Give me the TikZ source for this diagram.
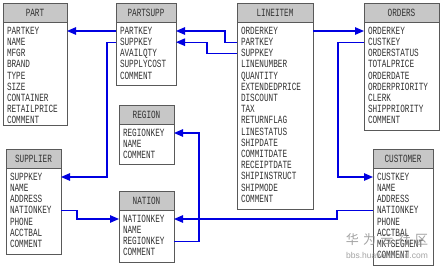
\documentclass[tikz,border=0pt]{standalone}
\usepackage{fontspec}
\setmainfont{Liberation Serif}
\newfontfamily\fldfont{Liberation Mono}
\newfontfamily\cjkfont{Noto Sans CJK SC}
\newfontfamily\wmfont{Liberation Sans}
\usepackage{graphicx}
\usetikzlibrary{arrows.meta}
\newcommand{\sx}[1]{\scalebox{0.70}[1]{#1}}
\definecolor{fkblue}{RGB}{0,0,225}
\tikzset{
  tblbox/.style={draw=black!65, line width=0.8pt, fill=white, anchor=north west, inner sep=0pt, outer sep=0pt},
  hdrbox/.style={draw=black!65, line width=0.6pt, fill=black!22, anchor=north west, inner sep=0pt, outer sep=0pt,
    font=\fldfont\fontsize{11}{11}\selectfont, text=black!80},
  fld/.style={inner sep=0pt, outer sep=0pt, anchor=west, text height=6.5pt, text depth=0pt,
    font=\fldfont\fontsize{11}{11}\selectfont, text=black!80},
  fk/.style={draw=fkblue, line width=1.2pt, -{Triangle[length=9pt,width=7.5pt]}},
  wm/.style={inner sep=0pt, text=black!45, opacity=0.8},
}
% name, left, top, right, bottom, title, fields
\newcommand{\dbtable}[7]{%
  \node[tblbox, minimum width={#4-#2}, minimum height={#5-#3}] (#1) at (#2,#3) {};
  \node[hdrbox, minimum width={#4-#2}, minimum height=19] (#1-h) at (#2,#3) {\sx{#6}};
  \foreach \f [count=\i] in {#7} {
    \node[fld] (#1-\i) at ({#2+4}, {#3+28+11.2*\i-11.2}) {\sx{\f}};
  }
}
\begin{document}
\begin{tikzpicture}[x=1pt,y=-1pt]
\useasboundingbox[fill=white] (0,0) rectangle (441,268);
\dbtable{part}{3}{3}{67}{125}{PART}{PARTKEY,NAME,MFGR,BRAND,TYPE,SIZE,CONTAINER,RETAILPRICE,COMMENT}
\dbtable{ps}{116}{3}{176}{85}{PARTSUPP}{PARTKEY,SUPPKEY,AVAILQTY,SUPPLYCOST,COMMENT}
\dbtable{reg}{119}{105}{174}{164}{REGION}{REGIONKEY,NAME,COMMENT}
\dbtable{sup}{6}{149}{61}{254}{SUPPLIER}{SUPPKEY,NAME,ADDRESS,NATIONKEY,PHONE,ACCTBAL,COMMENT}
\dbtable{nat}{119}{191}{174}{262}{NATION}{NATIONKEY,NAME,REGIONKEY,COMMENT}
\dbtable{li}{237}{3}{313}{209}{LINEITEM}{ORDERKEY,PARTKEY,SUPPKEY,LINENUMBER,QUANTITY,EXTENDEDPRICE,DISCOUNT,TAX,RETURNFLAG,LINESTATUS,SHIPDATE,COMMITDATE,RECEIPTDATE,SHIPINSTRUCT,SHIPMODE,COMMENT}
\dbtable{ord}{364}{3}{439}{130}{ORDERS}{ORDERKEY,CUSTKEY,ORDERSTATUS,TOTALPRICE,ORDERDATE,ORDERPRIORITY,CLERK,SHIPPRIORITY,COMMENT}
\dbtable{cus}{373}{149}{433}{265}{CUSTOMER}{CUSTKEY,NAME,ADDRESS,NATIONKEY,PHONE,ACCTBAL,MKTSEGMENT,COMMENT}
% connectors
\draw[fk] (ps.west |- ps-1) -- (part.east |- part-1);
\draw[fk] (li.west |- li-2) -- ++(-12,0) |- (ps.east |- ps-1);
\draw[fk] (li.west |- li-3) -- ++(-30,0) |- (ps.east |- ps-2);
\draw[fk] (ps.west |- ps-2) -- ++(-9,0) |- (sup.east |- sup-1);
\draw[fk] (sup.east |- sup-4) -- ++(16,0) |- (nat.west |- nat-1);
\draw[fk] (nat.east |- nat-3) -- ++(25,0) |- (reg.east |- reg-1);
\draw[fk] (cus.west |- cus-4) -- ++(-36,0) |- (nat.east |- nat-1);
\draw[fk] (li.east |- li-1) -- (ord.west |- ord-1);
\draw[fk] (ord.west |- ord-2) -- ++(-26,0) |- (cus.west |- cus-1);
% watermark
\node[wm, font=\cjkfont\fontsize{13}{13}\selectfont] (wm1) at (387,240) {华\,\,为\,\,云\,\,社\,\,区};
\node[wm, font=\wmfont\fontsize{8.5}{9}\selectfont] (wm2) at (387,255) {bbs.huaweicloud.com};
\end{tikzpicture}
\end{document}
